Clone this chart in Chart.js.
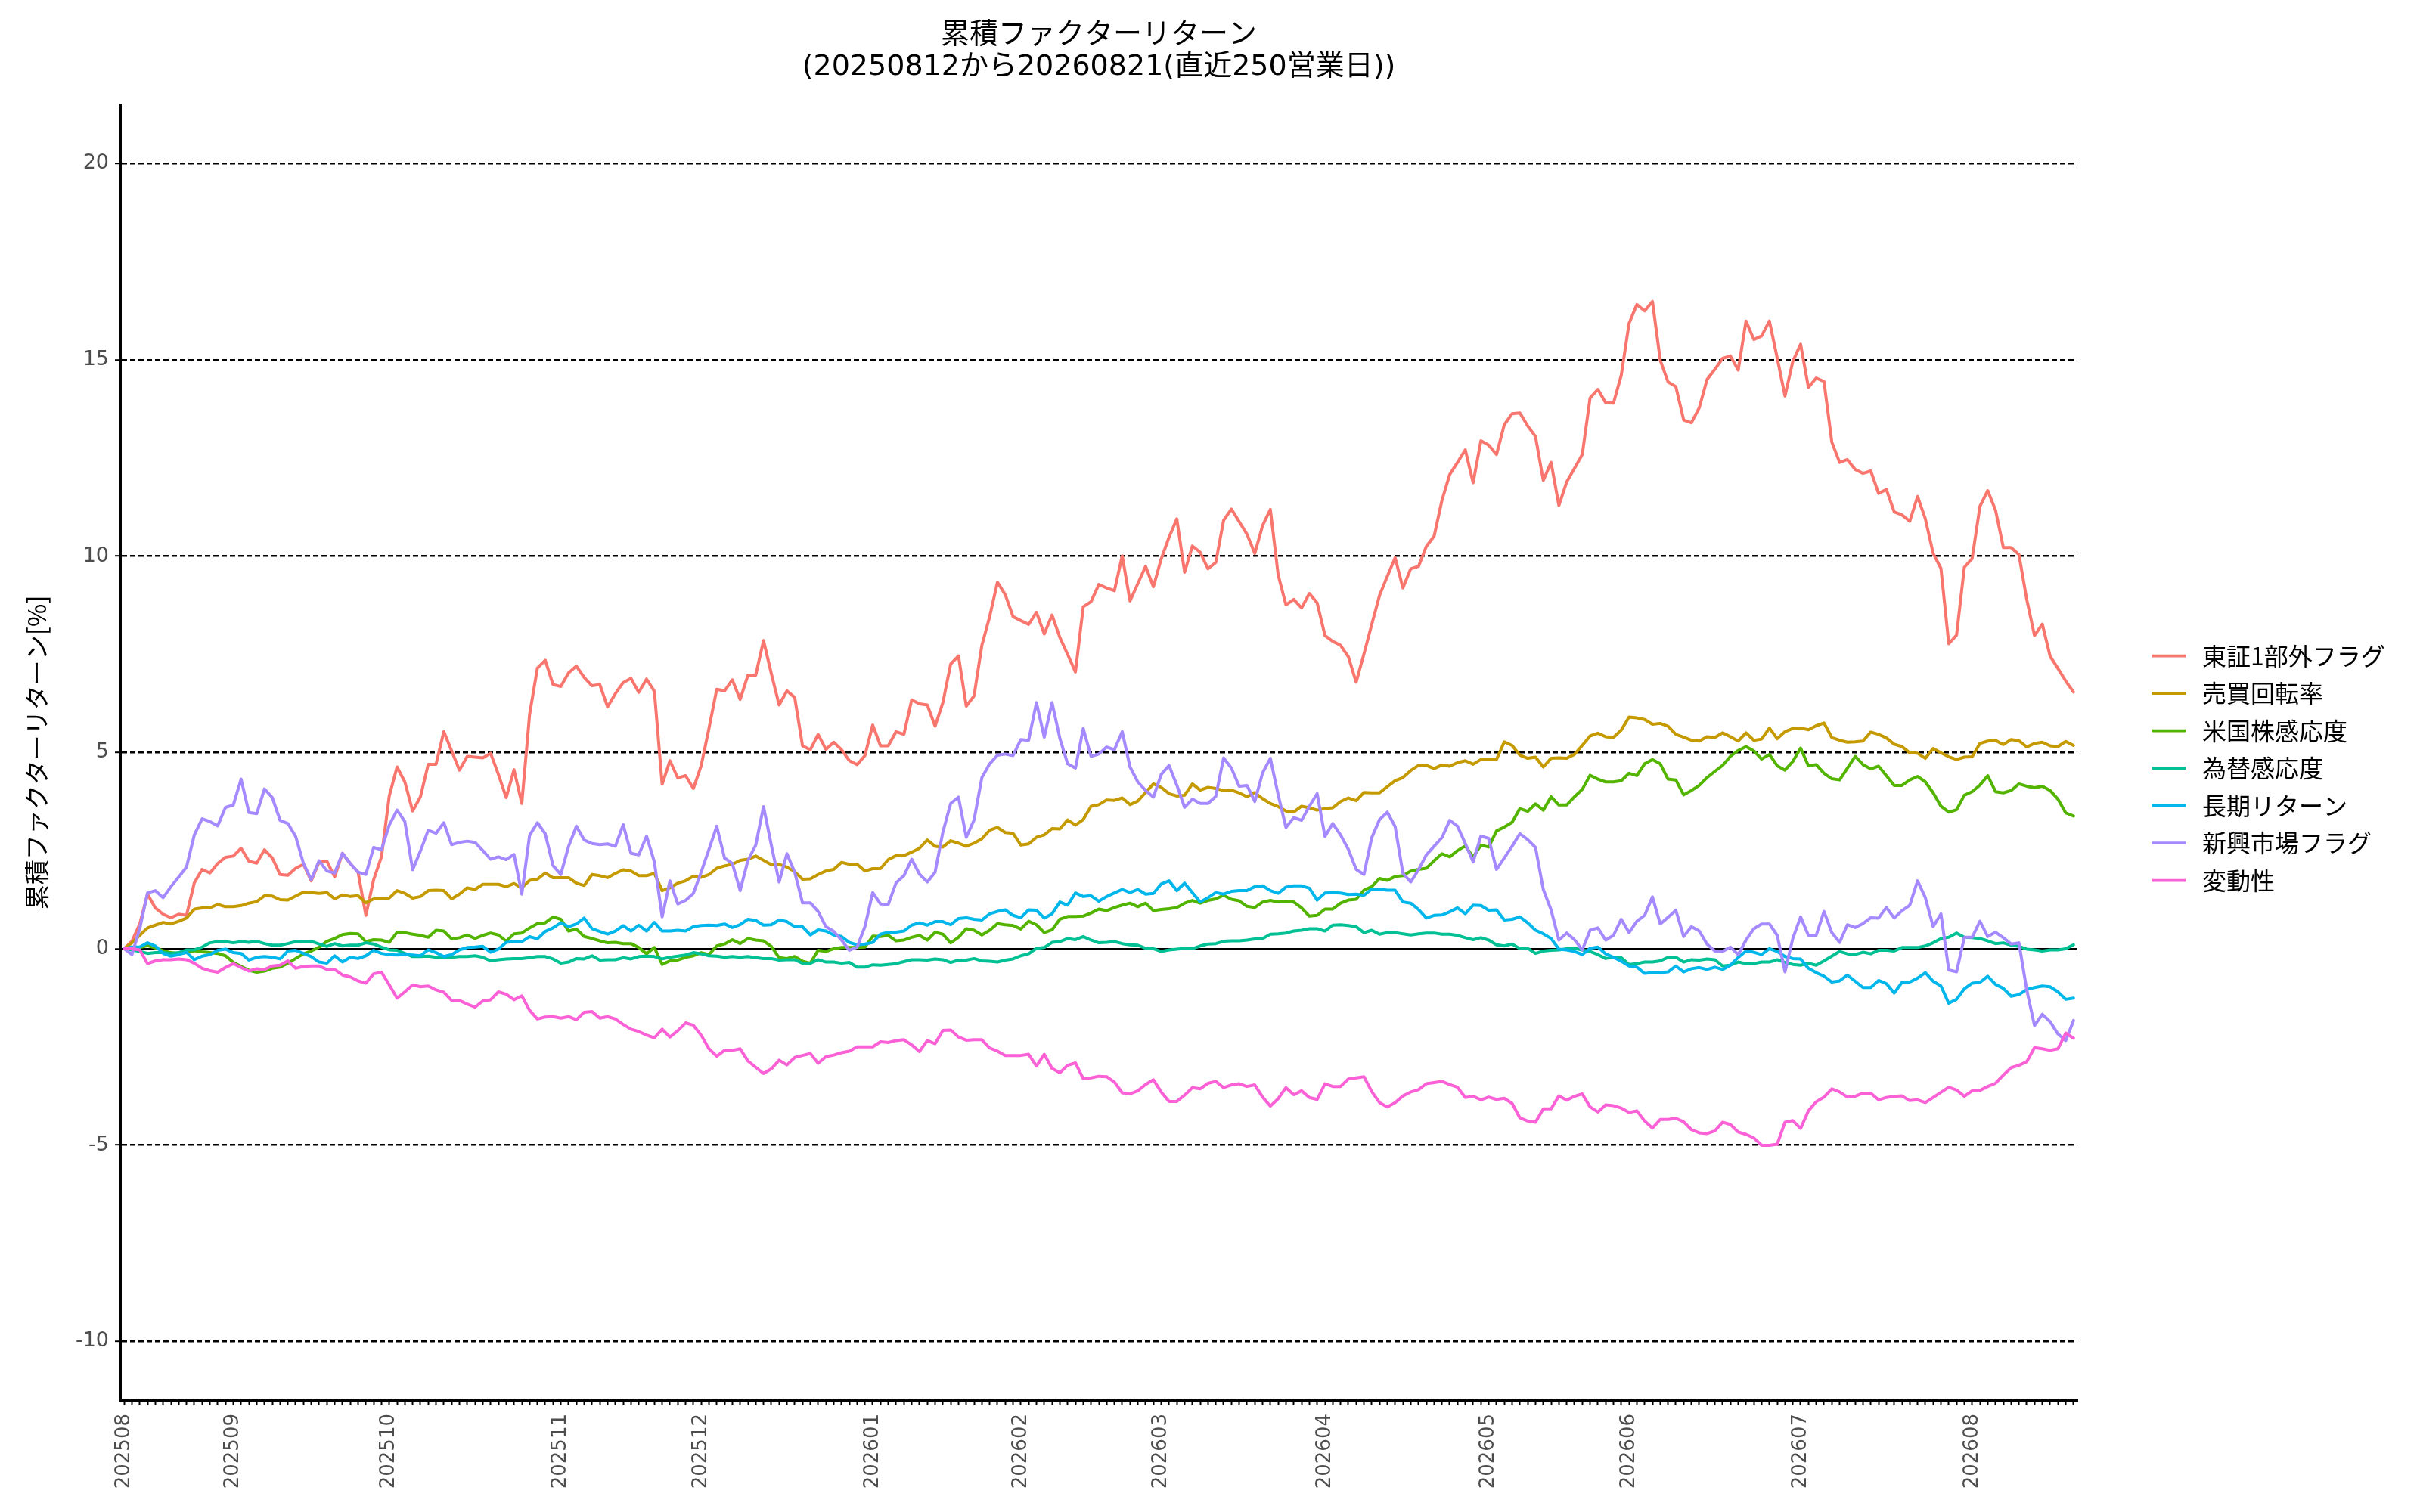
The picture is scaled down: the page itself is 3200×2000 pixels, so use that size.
<!DOCTYPE html>
<html>
<head>
<meta charset="utf-8">
<title>累積ファクターリターン</title>
<script src="https://cdn.jsdelivr.net/npm/chart.js@4.4.1/dist/chart.umd.min.js"></script>
<style>
  html, body { margin: 0; padding: 0; background: #ffffff; }
  #wrap { width: 3200px; height: 2000px; }
</style>
</head>
<body>
<div id="wrap"><canvas id="c" width="3200" height="2000" style="width:3200px;height:2000px"></canvas></div>
<script>
// ---------- data ----------
const dates = [
 '20250812','20250813','20250814','20250815','20250818','20250819','20250820','20250821','20250822','20250825','20250826','20250827','20250828','20250829',
 '20250901','20250902','20250903','20250904','20250905','20250908','20250909','20250910','20250911','20250912','20250916','20250917','20250918','20250919','20250922','20250924','20250925','20250926','20250929','20250930',
 '20251001','20251002','20251003','20251006','20251007','20251008','20251009','20251010','20251014','20251015','20251016','20251017','20251020','20251021','20251022','20251023','20251024','20251027','20251028','20251029','20251030','20251031',
 '20251104','20251105','20251106','20251107','20251110','20251111','20251112','20251113','20251114','20251117','20251118','20251119','20251120','20251121','20251125','20251126','20251127','20251128',
 '20251201','20251202','20251203','20251204','20251205','20251208','20251209','20251210','20251211','20251212','20251215','20251216','20251217','20251218','20251219','20251222','20251223','20251224','20251225','20251226','20251229','20251230',
 '20260105','20260106','20260107','20260108','20260109','20260113','20260114','20260115','20260116','20260119','20260120','20260121','20260122','20260123','20260126','20260127','20260128','20260129','20260130',
 '20260202','20260203','20260204','20260205','20260206','20260209','20260210','20260212','20260213','20260216','20260217','20260218','20260219','20260220','20260224','20260225','20260226','20260227',
 '20260302','20260303','20260304','20260305','20260306','20260309','20260310','20260311','20260312','20260313','20260316','20260317','20260318','20260319','20260323','20260324','20260325','20260326','20260327','20260330','20260331',
 '20260401','20260402','20260403','20260406','20260407','20260408','20260409','20260410','20260413','20260414','20260415','20260416','20260417','20260420','20260421','20260422','20260423','20260424','20260427','20260428','20260430',
 '20260501','20260507','20260508','20260511','20260512','20260513','20260514','20260515','20260518','20260519','20260520','20260521','20260522','20260525','20260526','20260527','20260528','20260529',
 '20260601','20260602','20260603','20260604','20260605','20260608','20260609','20260610','20260611','20260612','20260615','20260616','20260617','20260618','20260619','20260622','20260623','20260624','20260625','20260626','20260629','20260630',
 '20260701','20260702','20260703','20260706','20260707','20260708','20260709','20260710','20260713','20260714','20260715','20260716','20260717','20260721','20260722','20260723','20260724','20260727','20260728','20260729','20260730','20260731',
 '20260803','20260804','20260805','20260806','20260807','20260810','20260812','20260813','20260814','20260817','20260818','20260819','20260820','20260821'
];

const seriesNames = ['東証1部外フラグ','売買回転率','米国株感応度','為替感応度','長期リターン','新興市場フラグ','変動性'];

const tosho1Gai = [
 0,0.19,0.63,1.39,1.04,0.88,0.79,0.88,0.85,1.68,
 2.02,1.93,2.17,2.33,2.36,2.56,2.23,2.18,2.52,2.31,
 1.89,1.87,2.05,2.15,1.73,2.21,2.23,1.83,2.43,2.17,
 1.95,0.85,1.76,2.34,3.89,4.63,4.25,3.51,3.87,4.70,
 4.70,5.53,5.04,4.55,4.90,4.88,4.86,4.98,4.44,3.85,
 4.56,3.70,5.97,7.15,7.35,6.73,6.68,7.03,7.20,6.91,
 6.70,6.73,6.16,6.50,6.78,6.89,6.53,6.87,6.56,4.19,
 4.79,4.35,4.41,4.08,4.66,5.61,6.61,6.57,6.85,6.35,
 6.97,6.97,7.85,7.01,6.21,6.57,6.40,5.17,5.07,5.46,
 5.08,5.26,5.07,4.79,4.69,4.92,5.70,5.17,5.17,5.53,
 5.46,6.34,6.24,6.21,5.67,6.27,7.25,7.46,6.18,6.44,
 7.73,8.46,9.34,9.02,8.46,8.36,8.26,8.57,8.02,8.50,
 7.93,7.50,7.05,8.71,8.84,9.28,9.19,9.12,10.01,8.86,
 9.30,9.74,9.22,9.93,10.48,10.95,9.59,10.26,10.10,9.68,
 9.84,10.91,11.20,10.88,10.56,10.07,10.78,11.19,9.52,8.76,
 8.90,8.68,9.05,8.81,7.98,7.83,7.73,7.44,6.79,7.51,
 8.26,9.00,9.49,9.96,9.19,9.68,9.74,10.25,10.51,11.42,
 12.08,12.39,12.71,11.87,12.94,12.83,12.59,13.35,13.63,13.65,
 13.32,13.05,11.93,12.39,11.29,11.89,12.24,12.59,14.03,14.25,
 13.91,13.90,14.61,15.93,16.41,16.25,16.49,14.99,14.44,14.32,
 13.47,13.40,13.78,14.50,14.76,15.04,15.10,14.74,15.99,15.52,
 15.61,15.99,15.05,14.08,14.96,15.40,14.30,14.54,14.45,12.91,
 12.39,12.46,12.21,12.11,12.17,11.60,11.70,11.13,11.05,10.89,
 11.52,10.95,10.07,9.69,7.77,7.99,9.72,9.94,11.27,11.67,
 11.17,10.22,10.22,10.04,8.90,7.98,8.27,7.45,7.14,6.82,6.54
];

const baibaiKaiten = [
 0,0.15,0.34,0.53,0.60,0.67,0.63,0.70,0.78,1.01,
 1.04,1.04,1.13,1.07,1.07,1.10,1.16,1.20,1.35,1.34,
 1.25,1.24,1.34,1.44,1.43,1.41,1.43,1.27,1.37,1.33,
 1.35,1.17,1.27,1.27,1.29,1.48,1.41,1.29,1.33,1.48,
 1.49,1.48,1.27,1.39,1.55,1.51,1.64,1.64,1.64,1.58,
 1.66,1.55,1.74,1.77,1.93,1.81,1.81,1.81,1.67,1.61,
 1.89,1.86,1.81,1.92,2.01,1.98,1.86,1.86,1.92,1.48,
 1.55,1.67,1.73,1.85,1.82,1.89,2.05,2.11,2.15,2.25,
 2.28,2.36,2.25,2.14,2.15,2.08,1.96,1.77,1.78,1.89,
 1.98,2.02,2.20,2.15,2.15,1.98,2.04,2.04,2.27,2.37,
 2.37,2.46,2.56,2.77,2.61,2.59,2.75,2.69,2.61,2.69,
 2.80,3.02,3.09,2.96,2.94,2.64,2.67,2.84,2.90,3.06,
 3.05,3.28,3.15,3.29,3.63,3.67,3.79,3.78,3.84,3.67,
 3.76,3.98,4.20,4.11,3.95,3.89,3.91,4.20,4.04,4.11,
 4.08,4.03,4.04,3.97,3.87,3.98,3.82,3.70,3.62,3.51,
 3.48,3.63,3.59,3.53,3.57,3.59,3.75,3.84,3.77,3.98,
 3.97,3.97,4.13,4.28,4.36,4.54,4.67,4.67,4.59,4.68,
 4.65,4.74,4.79,4.70,4.82,4.82,4.82,5.27,5.18,4.93,
 4.85,4.88,4.63,4.85,4.86,4.85,4.95,5.18,5.42,5.49,
 5.40,5.38,5.57,5.90,5.88,5.84,5.72,5.74,5.67,5.46,
 5.39,5.31,5.29,5.40,5.38,5.50,5.40,5.29,5.50,5.31,
 5.34,5.62,5.35,5.53,5.61,5.62,5.58,5.68,5.75,5.38,
 5.31,5.26,5.27,5.29,5.52,5.46,5.37,5.21,5.15,4.99,
 4.98,4.85,5.10,4.99,4.89,4.82,4.88,4.89,5.23,5.29,
 5.31,5.20,5.33,5.30,5.14,5.23,5.26,5.17,5.15,5.28,5.18
];

const beikokuKando = [
 0,0.00,0.03,0.08,0.02,-0.05,-0.10,-0.12,-0.10,-0.05,
 -0.08,-0.10,-0.12,-0.18,-0.35,-0.45,-0.55,-0.60,-0.57,-0.50,
 -0.47,-0.37,-0.25,-0.13,-0.06,0.04,0.19,0.26,0.36,0.39,
 0.38,0.18,0.23,0.22,0.16,0.42,0.41,0.37,0.34,0.29,
 0.47,0.45,0.25,0.28,0.35,0.26,0.34,0.40,0.35,0.19,
 0.38,0.40,0.53,0.64,0.66,0.81,0.75,0.45,0.50,0.31,
 0.26,0.20,0.15,0.16,0.13,0.13,0.03,-0.13,0.03,-0.40,
 -0.31,-0.29,-0.22,-0.18,-0.10,-0.15,0.07,0.12,0.23,0.13,
 0.26,0.22,0.20,0.06,-0.23,-0.25,-0.20,-0.32,-0.37,-0.04,
 -0.07,0.00,0.03,0.03,0.03,0.04,0.32,0.31,0.34,0.20,
 0.22,0.29,0.34,0.22,0.42,0.37,0.15,0.29,0.51,0.47,
 0.35,0.47,0.64,0.61,0.59,0.50,0.70,0.61,0.41,0.48,
 0.75,0.82,0.82,0.83,0.91,1.01,0.97,1.05,1.11,1.16,
 1.07,1.16,0.97,1.00,1.02,1.05,1.16,1.23,1.16,1.23,
 1.27,1.36,1.26,1.22,1.08,1.05,1.19,1.23,1.19,1.20,
 1.19,1.04,0.83,0.85,1.01,1.01,1.16,1.24,1.26,1.49,
 1.58,1.79,1.74,1.84,1.86,1.98,2.02,2.05,2.24,2.42,
 2.34,2.50,2.62,2.33,2.64,2.59,3.00,3.10,3.22,3.57,
 3.50,3.69,3.53,3.87,3.66,3.66,3.87,4.06,4.42,4.32,
 4.25,4.25,4.28,4.47,4.41,4.71,4.82,4.71,4.32,4.30,
 3.92,4.03,4.16,4.36,4.52,4.67,4.90,5.05,5.15,5.04,
 4.83,4.95,4.66,4.55,4.77,5.11,4.66,4.69,4.47,4.33,
 4.30,4.60,4.90,4.69,4.58,4.65,4.41,4.16,4.16,4.30,
 4.39,4.25,3.97,3.63,3.48,3.54,3.91,4.00,4.17,4.41,
 4.00,3.97,4.03,4.20,4.14,4.10,4.14,4.03,3.81,3.46,3.38
];

const kawaseKando = [
 0,-0.03,-0.07,-0.12,-0.10,-0.10,-0.12,-0.10,-0.03,-0.03,
 0.04,0.15,0.18,0.18,0.15,0.18,0.16,0.19,0.13,0.09,
 0.09,0.13,0.18,0.19,0.19,0.12,0.06,0.13,0.07,0.09,
 0.09,0.15,0.12,0.04,-0.03,-0.04,-0.12,-0.20,-0.20,-0.19,
 -0.22,-0.23,-0.22,-0.20,-0.20,-0.18,-0.22,-0.31,-0.28,-0.26,
 -0.25,-0.25,-0.23,-0.20,-0.20,-0.26,-0.37,-0.34,-0.25,-0.26,
 -0.18,-0.29,-0.28,-0.28,-0.23,-0.26,-0.20,-0.19,-0.20,-0.26,
 -0.22,-0.19,-0.16,-0.10,-0.13,-0.18,-0.19,-0.22,-0.20,-0.22,
 -0.20,-0.23,-0.25,-0.25,-0.29,-0.28,-0.28,-0.37,-0.37,-0.28,
 -0.34,-0.34,-0.37,-0.35,-0.47,-0.47,-0.41,-0.42,-0.40,-0.38,
 -0.33,-0.28,-0.28,-0.29,-0.26,-0.28,-0.35,-0.29,-0.29,-0.25,
 -0.31,-0.32,-0.34,-0.29,-0.26,-0.18,-0.13,0.01,0.03,0.16,
 0.18,0.26,0.23,0.31,0.22,0.15,0.16,0.18,0.13,0.10,
 0.09,0.01,0.00,-0.07,-0.03,-0.01,0.01,0.00,0.07,0.12,
 0.13,0.19,0.20,0.20,0.22,0.25,0.26,0.37,0.38,0.40,
 0.45,0.47,0.51,0.51,0.45,0.60,0.61,0.59,0.56,0.41,
 0.47,0.37,0.41,0.41,0.38,0.35,0.38,0.40,0.40,0.37,
 0.37,0.34,0.28,0.23,0.28,0.22,0.10,0.07,0.12,0.00,
 0.01,-0.12,-0.06,-0.04,-0.03,0.00,0.01,-0.03,-0.07,-0.15,
 -0.25,-0.22,-0.23,-0.40,-0.38,-0.34,-0.34,-0.31,-0.22,-0.22,
 -0.34,-0.28,-0.29,-0.26,-0.28,-0.44,-0.42,-0.34,-0.38,-0.38,
 -0.34,-0.34,-0.28,-0.35,-0.40,-0.42,-0.37,-0.42,-0.31,-0.19,
 -0.07,-0.13,-0.15,-0.09,-0.13,-0.04,-0.04,-0.06,0.03,0.03,
 0.03,0.07,0.15,0.26,0.29,0.40,0.29,0.28,0.26,0.20,
 0.13,0.15,0.09,0.06,-0.01,-0.03,-0.06,-0.03,-0.03,0.00,0.10
];

const chokiReturn = [
 0,0.04,0.04,0.15,0.07,-0.12,-0.19,-0.15,-0.09,-0.28,
 -0.19,-0.15,-0.04,-0.01,-0.10,-0.12,-0.29,-0.22,-0.20,-0.22,
 -0.26,-0.06,-0.04,-0.12,-0.20,-0.34,-0.37,-0.18,-0.34,-0.22,
 -0.25,-0.18,-0.04,-0.12,-0.15,-0.16,-0.15,-0.16,-0.18,-0.03,
 -0.10,-0.20,-0.15,-0.03,0.03,0.04,0.06,-0.09,-0.01,0.16,
 0.18,0.18,0.31,0.25,0.44,0.53,0.66,0.56,0.63,0.78,
 0.51,0.44,0.37,0.45,0.59,0.45,0.60,0.45,0.67,0.45,
 0.45,0.47,0.45,0.56,0.59,0.60,0.59,0.63,0.54,0.61,
 0.75,0.72,0.60,0.61,0.73,0.69,0.56,0.56,0.35,0.48,
 0.45,0.35,0.31,0.16,0.10,0.12,0.16,0.37,0.42,0.42,
 0.45,0.60,0.66,0.60,0.69,0.69,0.61,0.77,0.79,0.75,
 0.73,0.89,0.95,0.99,0.85,0.79,0.99,0.98,0.78,0.89,
 1.19,1.11,1.42,1.33,1.35,1.21,1.33,1.42,1.51,1.43,
 1.51,1.39,1.41,1.65,1.73,1.48,1.67,1.43,1.19,1.30,
 1.43,1.39,1.46,1.48,1.48,1.58,1.60,1.48,1.41,1.57,
 1.60,1.60,1.54,1.24,1.42,1.43,1.42,1.38,1.39,1.36,
 1.52,1.52,1.49,1.49,1.19,1.16,1.00,0.78,0.85,0.86,
 0.94,1.04,0.89,1.11,1.10,0.98,0.99,0.73,0.75,0.81,
 0.66,0.47,0.38,0.26,-0.01,-0.03,-0.07,-0.15,0.01,0.04,
 -0.13,-0.22,-0.32,-0.44,-0.47,-0.63,-0.61,-0.61,-0.59,-0.44,
 -0.59,-0.51,-0.48,-0.53,-0.47,-0.53,-0.42,-0.22,-0.06,-0.09,
 -0.15,0.00,-0.07,-0.20,-0.25,-0.26,-0.50,-0.61,-0.70,-0.85,
 -0.82,-0.67,-0.83,-0.99,-0.99,-0.81,-0.89,-1.13,-0.86,-0.85,
 -0.75,-0.61,-0.83,-0.95,-1.39,-1.29,-1.02,-0.88,-0.86,-0.70,
 -0.91,-1.01,-1.21,-1.17,-1.04,-0.99,-0.95,-0.97,-1.10,-1.29,-1.26
];

const shinkoShijo = [
 0,-0.15,0.51,1.42,1.48,1.30,1.58,1.83,2.08,2.90,
 3.31,3.24,3.13,3.60,3.66,4.32,3.47,3.44,4.07,3.85,
 3.27,3.19,2.86,2.17,1.76,2.24,1.98,1.93,2.43,2.17,
 1.95,1.89,2.58,2.52,3.15,3.53,3.24,2.01,2.49,3.02,
 2.94,3.21,2.65,2.71,2.74,2.71,2.50,2.28,2.34,2.27,
 2.40,1.39,2.89,3.21,2.93,2.12,1.89,2.61,3.12,2.77,
 2.68,2.65,2.67,2.61,3.16,2.43,2.39,2.87,2.21,0.81,
 1.73,1.14,1.23,1.41,1.95,2.53,3.12,2.31,2.17,1.48,
 2.25,2.64,3.62,2.64,1.70,2.42,1.95,1.17,1.17,0.95,
 0.56,0.44,0.22,-0.04,0.04,0.56,1.43,1.14,1.13,1.68,
 1.86,2.28,1.90,1.70,1.95,2.97,3.70,3.86,2.84,3.28,
 4.36,4.71,4.93,4.96,4.92,5.33,5.31,6.27,5.39,6.27,
 5.36,4.71,4.60,5.61,4.90,4.96,5.14,5.07,5.53,4.63,
 4.25,4.03,3.86,4.44,4.67,4.17,3.60,3.81,3.70,3.70,
 3.88,4.86,4.60,4.14,4.16,3.75,4.48,4.85,3.92,3.09,
 3.34,3.27,3.63,3.95,2.86,3.19,2.90,2.53,2.02,1.89,
 2.83,3.29,3.48,3.11,1.92,1.70,2.01,2.39,2.61,2.83,
 3.27,3.12,2.68,2.21,2.87,2.81,2.02,2.31,2.61,2.93,
 2.78,2.58,1.51,0.99,0.22,0.40,0.23,-0.03,0.47,0.53,
 0.22,0.34,0.75,0.41,0.70,0.85,1.32,0.63,0.80,0.98,
 0.31,0.56,0.45,0.12,-0.06,-0.07,0.04,-0.15,0.22,0.51,
 0.63,0.63,0.34,-0.59,0.26,0.81,0.34,0.34,0.95,0.41,
 0.16,0.61,0.54,0.64,0.79,0.78,1.05,0.78,0.97,1.11,
 1.73,1.30,0.56,0.89,-0.54,-0.59,0.29,0.29,0.70,0.31,
 0.42,0.28,0.12,0.15,-1.05,-1.96,-1.67,-1.86,-2.17,-2.34,-1.83
];

const hendosei = [
 0,0,-0.03,-0.38,-0.31,-0.28,-0.28,-0.26,-0.28,-0.37,
 -0.50,-0.56,-0.60,-0.48,-0.38,-0.48,-0.57,-0.51,-0.53,-0.44,
 -0.42,-0.31,-0.50,-0.45,-0.44,-0.44,-0.53,-0.53,-0.67,-0.72,
 -0.82,-0.88,-0.64,-0.60,-0.92,-1.26,-1.10,-0.92,-0.97,-0.95,
 -1.05,-1.11,-1.32,-1.32,-1.41,-1.49,-1.33,-1.30,-1.10,-1.16,
 -1.30,-1.20,-1.57,-1.79,-1.74,-1.73,-1.77,-1.73,-1.81,-1.62,
 -1.60,-1.77,-1.73,-1.79,-1.93,-2.05,-2.11,-2.20,-2.27,-2.05,
 -2.25,-2.09,-1.89,-1.95,-2.20,-2.55,-2.74,-2.59,-2.59,-2.55,
 -2.86,-3.02,-3.18,-3.06,-2.84,-2.96,-2.77,-2.72,-2.67,-2.92,
 -2.75,-2.71,-2.65,-2.61,-2.50,-2.50,-2.50,-2.37,-2.39,-2.34,
 -2.32,-2.45,-2.62,-2.34,-2.42,-2.08,-2.07,-2.25,-2.33,-2.32,
 -2.32,-2.53,-2.61,-2.72,-2.72,-2.72,-2.69,-2.99,-2.69,-3.05,
 -3.16,-2.97,-2.91,-3.31,-3.29,-3.25,-3.26,-3.40,-3.67,-3.70,
 -3.62,-3.46,-3.34,-3.65,-3.89,-3.89,-3.73,-3.54,-3.57,-3.43,
 -3.38,-3.54,-3.47,-3.44,-3.51,-3.47,-3.78,-4.01,-3.82,-3.54,
 -3.72,-3.62,-3.79,-3.84,-3.44,-3.51,-3.51,-3.32,-3.29,-3.26,
 -3.64,-3.92,-4.03,-3.92,-3.75,-3.65,-3.59,-3.44,-3.41,-3.38,
 -3.46,-3.53,-3.79,-3.76,-3.85,-3.78,-3.84,-3.81,-3.94,-4.31,
 -4.39,-4.42,-4.08,-4.08,-3.75,-3.86,-3.76,-3.70,-4.03,-4.16,
 -3.98,-4.00,-4.06,-4.17,-4.13,-4.39,-4.57,-4.35,-4.35,-4.32,
 -4.41,-4.61,-4.69,-4.71,-4.64,-4.42,-4.48,-4.67,-4.73,-4.82,
 -5.01,-5.01,-4.98,-4.42,-4.38,-4.58,-4.13,-3.90,-3.78,-3.57,
 -3.65,-3.78,-3.76,-3.68,-3.68,-3.85,-3.79,-3.76,-3.75,-3.87,
 -3.85,-3.92,-3.79,-3.66,-3.53,-3.60,-3.76,-3.62,-3.61,-3.51,
 -3.43,-3.22,-3.03,-2.97,-2.88,-2.52,-2.55,-2.59,-2.55,-2.15,-2.28
];

const seriesValues = [tosho1Gai, baibaiKaiten, beikokuKando, kawaseKando, chokiReturn, shinkoShijo, hendosei];
const seriesColors = ['#F8766D','#C49A00','#53B400','#00C094','#00B6EB','#A58AFF','#FB61D7'];

const yMin = -11.5, yMax = 21.5, yStep = 5;

// ---------- helpers ----------
const monthLabel = (i) => (i === 0 || dates[i].slice(0, 6) !== dates[i - 1].slice(0, 6)) ? dates[i].slice(0, 6) : '';

const CJK = '"Noto Sans CJK JP", "Noto Sans", sans-serif';
const MIX = '"DejaVu Sans", "Noto Sans CJK JP", sans-serif';
const LAT = '"DejaVu Sans", sans-serif';

const sideLegend = {
  id: 'sideLegend',
  afterDraw(chart) {
    const ctx = chart.ctx;
    const area = chart.chartArea;
    const x0 = area.right + 99;
    const y0 = area.top + 729;
    const gap = 49.5;
    ctx.save();
    ctx.font = '32px ' + CJK;
    ctx.textBaseline = 'middle';
    ctx.textAlign = 'left';
    chart.data.datasets.forEach((ds, i) => {
      const y = y0 + i * gap;
      ctx.strokeStyle = ds.borderColor;
      ctx.lineWidth = 3.8;
      ctx.lineCap = 'butt';
      ctx.beginPath();
      ctx.moveTo(x0, y);
      ctx.lineTo(x0 + 44, y);
      ctx.stroke();
      ctx.fillStyle = '#000000';
      ctx.fillText(ds.label, x0 + 66, y);
    });
    ctx.restore();
  }
};

const datasets = seriesNames.map((name, k) => ({
  label: name,
  data: seriesValues[k],
  borderColor: seriesColors[k],
  backgroundColor: seriesColors[k],
  borderWidth: 4,
  pointRadius: 0,
  pointHoverRadius: 0,
  tension: 0,
  fill: false,
  borderCapStyle: 'round',
  borderJoinStyle: 'round',
  order: seriesNames.length - 1 - k
}));

new Chart(document.getElementById('c'), {
  type: 'line',
  data: { labels: dates, datasets },
  plugins: [sideLegend],
  options: {
    responsive: false,
    devicePixelRatio: 1,
    animation: false,
    events: [],
    layout: { padding: { left: 0, right: 453, top: 0, bottom: 0 } },
    plugins: {
      legend: { display: false },
      tooltip: { enabled: false },
      title: {
        display: true,
        fullSize: false,
        text: ['累積ファクターリターン', '(' + dates[0] + 'から' + dates[dates.length - 1] + '(直近' + (dates.length - 1) + '営業日))'],
        color: '#000000',
        font: { family: MIX, size: 38, weight: 'normal', lineHeight: 1.1 },
        padding: { top: 26, bottom: 29 }
      }
    },
    scales: {
      x: {
        type: 'category',
        offset: true,
        afterFit: (s) => { s.height = 148; },
        grid: {
          display: true,
          drawOnChartArea: false,
          drawTicks: true,
          offset: false,
          tickLength: 7,
          tickColor: '#000000',
          tickWidth: 2
        },
        border: { display: true, color: '#000000', width: 3 },
        ticks: {
          autoSkip: false,
          minRotation: 90,
          maxRotation: 90,
          padding: 11,
          color: '#4D4D4D',
          font: { family: LAT, size: 26 },
          callback: function (value, index) { return monthLabel(index); }
        }
      },
      y: {
        type: 'linear',
        min: yMin,
        max: yMax,
        afterFit: (s) => { s.width = 159; },
        grid: {
          display: true,
          drawOnChartArea: true,
          drawTicks: true,
          tickLength: 7,
          tickColor: '#000000',
          tickWidth: 2,
          color: '#000000',
          lineWidth: (c) => (c.tick && c.tick.value === 0) ? 2.6 : 2.4
        },
        border: {
          display: true,
          color: '#000000',
          width: 3,
          dash: (c) => (c.tick && c.tick.value === 0) ? [] : [7, 4]
        },
        ticks: {
          stepSize: yStep,
          includeBounds: false,
          padding: 8,
          color: '#4D4D4D',
          font: { family: LAT, size: 27 }
        },
        title: {
          display: true,
          text: '累積ファクターリターン[%]',
          color: '#000000',
          font: { family: CJK, size: 33, lineHeight: 1.2 },
          padding: { top: 29, bottom: 0 }
        }
      }
    }
  }
});
</script>
</body>
</html>
